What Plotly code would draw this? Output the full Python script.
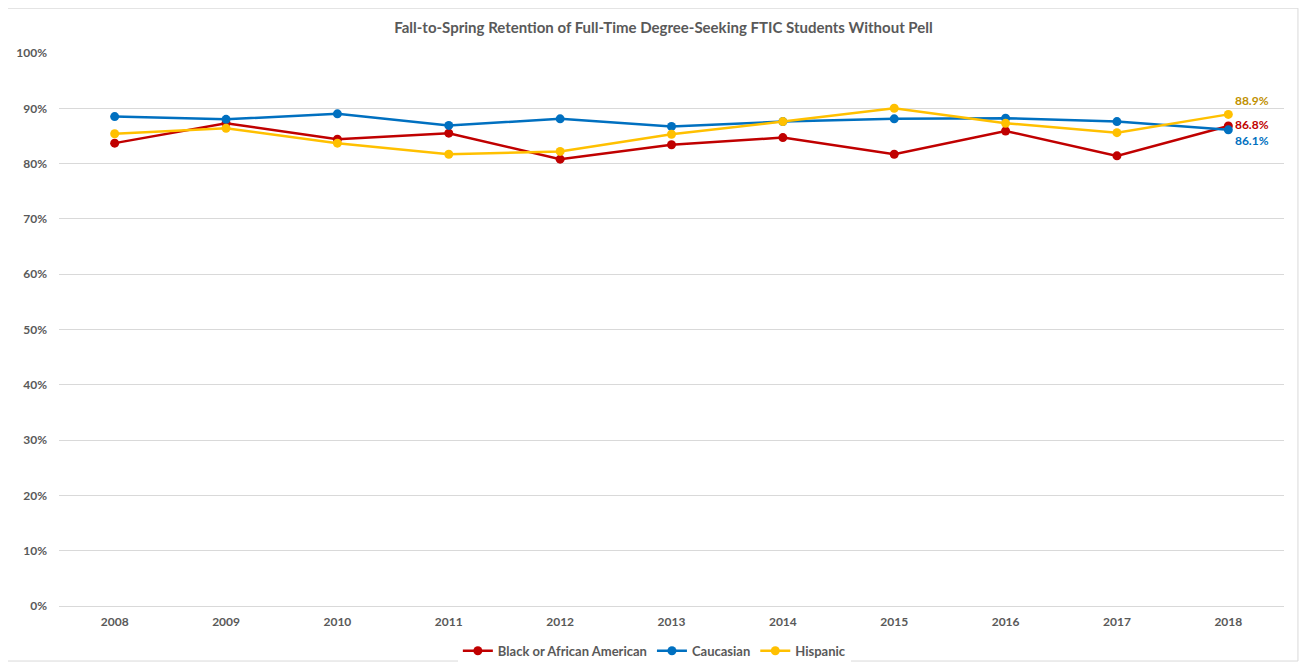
import plotly.graph_objects as go

years = ["2008", "2009", "2010", "2011", "2012", "2013", "2014", "2015", "2016", "2017", "2018"]
black = [0.837, 0.873, 0.844, 0.855, 0.808, 0.834, 0.847, 0.817, 0.859, 0.814, 0.868]
caucasian = [0.885, 0.880, 0.890, 0.869, 0.881, 0.867, 0.876, 0.881, 0.882, 0.876, 0.861]
hispanic = [0.854, 0.864, 0.837, 0.817, 0.822, 0.853, 0.876, 0.900, 0.873, 0.856, 0.889]

series = [
    ("Black or African American", black, "#C00000", "#C00000", "middle right"),
    ("Caucasian", caucasian, "#0070C0", "#0070C0", "bottom right"),
    ("Hispanic", hispanic, "#FFC000", "#BF9000", "top right"),
]

FONT = "Lato, 'Open Sans', sans-serif"
GREY = "#595959"

fig = go.Figure()
for name, vals, color, label_color, pos in series:
    # label only the last point
    text = [""] * (len(vals) - 1) + [f"{vals[-1]*100:.1f}%"]
    fig.add_trace(go.Scatter(
        x=years, y=vals, name=name,
        mode="lines+markers+text",
        line=dict(color=color, width=2.5),
        marker=dict(color=color, size=9),
        text=text, textposition=pos,
        textfont=dict(color=label_color, size=12, family=FONT, weight="bold"),
        cliponaxis=False,
    ))

# the page body adds an 8px offset, so margins are shifted to compensate
fig.update_layout(
    width=1311, height=665,
    margin=dict(l=51, r=35, t=45, b=67, autoexpand=False),
    paper_bgcolor="white", plot_bgcolor="white",
    font=dict(family=FONT, color=GREY),
    title=dict(
        text="<b>Fall-to-Spring Retention of Full-Time Degree-Seeking FTIC Students Without Pell</b>",
        x=0.5, xanchor="center", y=0.970, yanchor="middle",
        font=dict(size=15, color=GREY, family=FONT),
    ),
    legend=dict(
        orientation="h", x=0.486, xanchor="center", y=-0.081, yanchor="middle",
        font=dict(size=13, color=GREY, family=FONT, weight="bold"),
        itemwidth=30, tracegroupgap=0,
    ),
    showlegend=True,
)
fig.update_xaxes(
    type="category", range=[-0.5, len(years) - 0.5],
    showgrid=False, zeroline=False, automargin=False,
    showline=True, linecolor="#d9d9d9", linewidth=1,
    tickfont=dict(size=12, color=GREY, family=FONT, weight="bold"),
    ticklabelstandoff=5,
)
fig.update_yaxes(
    range=[0, 1], tickformat=".0%", dtick=0.1, automargin=False,
    showgrid=True, gridcolor="#d9d9d9", gridwidth=1, zeroline=False,
    tickfont=dict(size=12, color=GREY, family=FONT, weight="bold"),
    ticklabelstandoff=11,
)
# chart frame
fig.add_shape(
    type="rect", xref="paper", yref="paper",
    x0=-0.0433, x1=1.0114, y0=-0.0995, y1=1.081,
    line=dict(color="#d9d9d9", width=1), layer="below",
)

fig.write_html("out.html")
